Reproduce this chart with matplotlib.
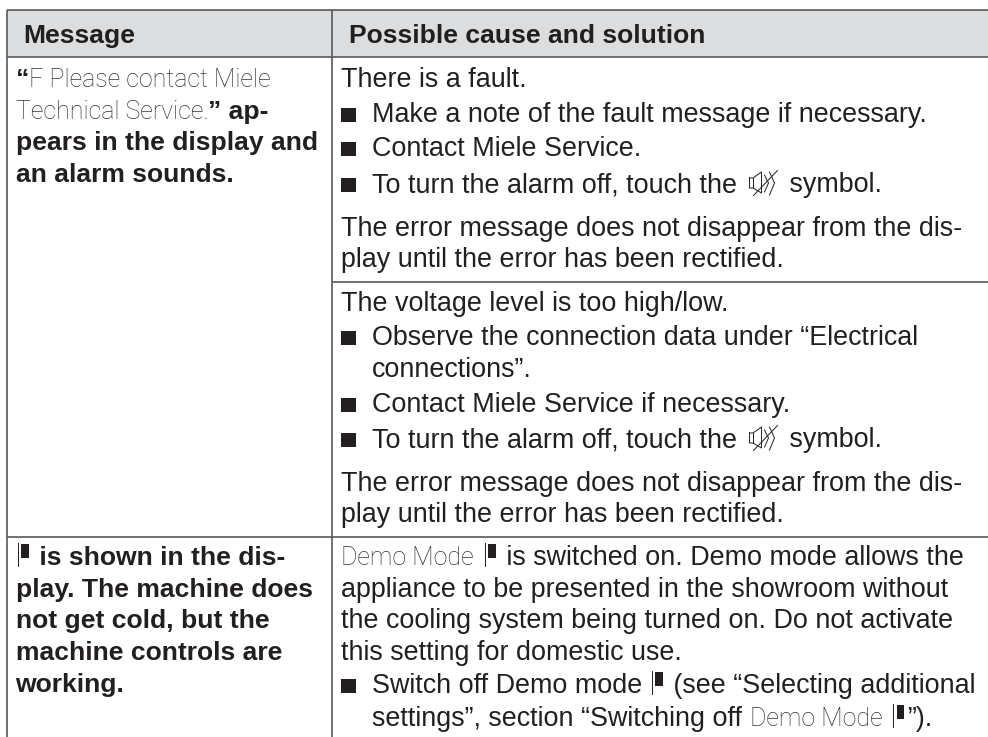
import matplotlib
matplotlib.use('Agg')
import matplotlib.pyplot as plt
from matplotlib.patches import Rectangle

W, H = 988, 737
BODY = 'Liberation Sans'
TEXT = '#231f20'
LINE = '#58595b'
SIZE = 19.4
BOLD_SIZE = 19.05
LIGHT_SIZE = 18.0

headers = ['Message', 'Possible cause and solution']

# run styles: b bold, n normal, d display font, i standby icon, s speaker icon
left_rows = [
    [('b', '\u201c'), ('d', 'F Please contact Miele')],
    [('d', 'Technical Service.'), ('b', '\u201d ap-')],
    [('b', 'pears in the display and')],
    [('b', 'an alarm sounds.')],
    [('i', ''), ('b', ' is shown in the dis-')],
    [('b', 'play. The machine does')],
    [('b', 'not get cold, but the')],
    [('b', 'machine controls are')],
    [('b', 'working.')],
]
left_y = [87, 118.5, 150, 182, 565, 597, 628, 660, 692]

right_rows = [
    ('', [('n', 'There is a fault.')]),
    ('*', [('n', 'Make a note of the fault message if necessary.')]),
    ('*', [('n', 'Contact Miele Service.')]),
    ('*', [('n', 'To turn the alarm off, touch the '), ('s', ''), ('n', ' symbol.')]),
    ('', [('n', 'The error message does not disappear from the dis-')]),
    ('', [('n', 'play until the error has been rectified.')]),
    ('', [('n', 'The voltage level is too high/low.')]),
    ('*', [('n', 'Observe the connection data under \u201cElectrical')]),
    ('>', [('n', 'connections\u201d.')]),
    ('*', [('n', 'Contact Miele Service if necessary.')]),
    ('*', [('n', 'To turn the alarm off, touch the '), ('s', ''), ('n', ' symbol.')]),
    ('', [('n', 'The error message does not disappear from the dis-')]),
    ('', [('n', 'play until the error has been rectified.')]),
    ('', [('d', 'Demo Mode '), ('i', ''), ('n', ' is switched on. Demo mode allows the')]),
    ('', [('n', 'appliance to be presented in the showroom without')]),
    ('', [('n', 'the cooling system being turned on. Do not activate')]),
    ('', [('n', 'this setting for domestic use.')]),
    ('*', [('n', 'Switch off Demo mode '), ('i', ''), ('n', ' (see \u201cSelecting additional')]),
    ('>', [('n', 'settings\u201d, section \u201cSwitching off '), ('d', 'Demo Mode '), ('i', ''), ('n', '\u201d).')]),
]
right_y = [87, 121.5, 156, 192, 236, 267, 311, 345, 377, 412, 447, 491, 522,
           565, 597, 628, 660, 693, 726]

fig = plt.figure(figsize=(W / 100, H / 100), dpi=100)
ax = fig.add_axes([0, 0, 1, 1])
ax.set_xlim(0, W)
ax.set_ylim(H, 0)
ax.axis('off')
renderer = fig.canvas.get_renderer()


def standby_icon(x, y):
    ax.plot([x + 2, x + 2], [y - 22, y + 1], color=TEXT, lw=0.7)
    ax.add_patch(Rectangle((x + 5.5, y - 21), 7.5, 14, color=TEXT, lw=0))
    return x + 16


def speaker_icon(x, y):
    x = x + 5
    xs = [x, x + 3.5, x + 12, x + 12, x + 3.5, x, x]
    ys = [y - 14, y - 14, y - 20, y + 1, y - 4, y - 4, y - 14]
    ax.plot(xs, ys, color=TEXT, lw=0.7)
    ax.plot([x + 3.5, x + 3.5], [y - 14, y - 4], color=TEXT, lw=0.7)
    ax.plot([x + 4, x + 28], [y + 3.5, y - 21.5], color=TEXT, lw=0.7)
    ax.plot([x + 15, x + 19, x + 15], [y - 17, y - 9, y], color=TEXT, lw=0.7)
    ax.plot([x + 20, x + 25, x + 20], [y - 20, y - 9, y + 3], color=TEXT, lw=0.7)
    return x + 32


def draw_runs(x, y, runs):
    for style, s in runs:
        if style == 'i':
            x = standby_icon(x, y)
            continue
        if style == 's':
            x = speaker_icon(x, y)
            continue
        if style == 'd':
            t = ax.text(x, y, s, family='Roboto', weight='light', size=LIGHT_SIZE,
                        color='#333333', va='baseline')
            # the light face has a narrow space
            if s.endswith(' '):
                x += 3
        else:
            size = BOLD_SIZE if style == 'b' else SIZE
            t = ax.text(x, y, s, family=BODY, size=size, color=TEXT, va='baseline',
                        weight='bold' if style == 'b' else 'normal')
        # width already counts the spaces at the ends of a run
        x += t.get_window_extent(renderer).width
    return x


# header band and grid
ax.add_patch(Rectangle((7, 10), W - 7, 47, color='#dcddde', lw=0, zorder=0))
for y0, x0 in [(10, 7), (57, 7), (281.7, 332), (536.7, 7)]:
    ax.plot([x0, W], [y0, y0], color=LINE, lw=1.2, solid_capstyle='butt')
for x0 in [7.3, 332]:
    ax.plot([x0, x0], [10, H], color=LINE, lw=1.2, solid_capstyle='butt')

ax.text(23, 42.7, headers[0], family=BODY, weight='bold', size=BOLD_SIZE, color=TEXT, va='baseline')
ax.text(349, 42.7, headers[1], family=BODY, weight='bold', size=BOLD_SIZE, color=TEXT, va='baseline')

for y, runs in zip(left_y, left_rows):
    draw_runs(15.5, y, runs)

for y, (mark, runs) in zip(right_y, right_rows):
    x = 341
    if mark == '*':
        ax.add_patch(Rectangle((341, y - 14), 15, 14, color=TEXT, lw=0))
    if mark:
        x = 372
    draw_runs(x, y, runs)

fig.savefig('out.png', dpi=100)
